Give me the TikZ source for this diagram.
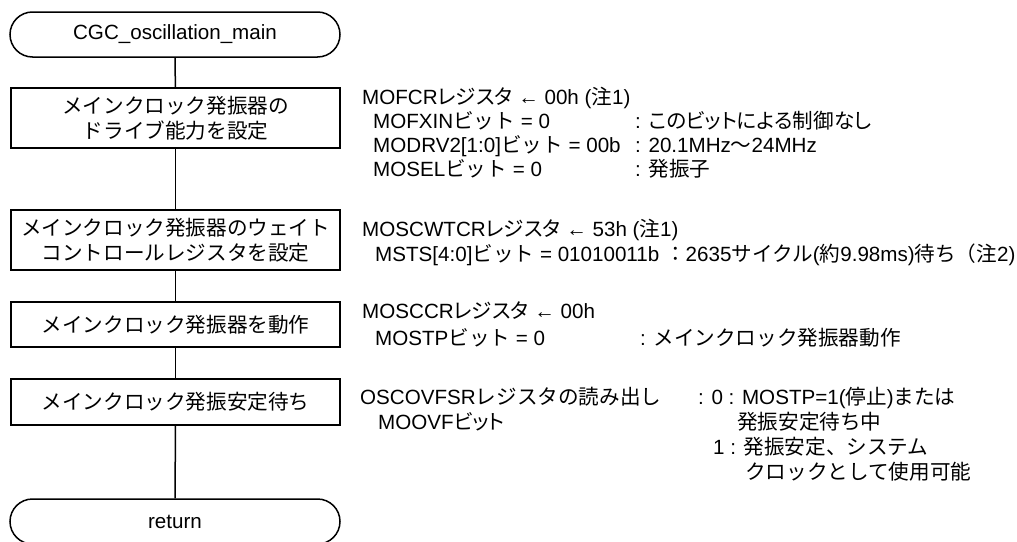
\documentclass[tikz,border=0pt]{standalone}
\usepackage{fontspec}
\setmainfont{Liberation Sans}
\newfontfamily\jpfull{Noto Sans CJK JP}
\newfontfamily\jpprop[RawFeature=+palt]{Noto Sans CJK JP}
\newcommand\jf[1]{{\jpfull #1}}
\newcommand\jp[1]{{\jpprop #1}}
\usetikzlibrary{shapes.misc}
\begin{document}
\begin{tikzpicture}[x=1pt,y=-1pt,
  every node/.style={font=\fontsize{20.6}{24.5}\selectfont},
  proc/.style={draw, line width=1.5pt, minimum width=329pt, inner sep=0pt, align=center},
  term/.style={draw, rounded rectangle, line width=1.5pt, minimum width=330pt, minimum height=45pt, inner sep=0pt},
  txt/.style={anchor=base west, inner sep=0pt},
  flow/.style={line width=1.5pt}]
\useasboundingbox (0,0) rectangle (1017,541);
% flow chart
\node[term] (start) at (175,34.5) {CGC\_oscillation\_main};
\node[proc, minimum height=60pt] (b1) at (175.5,118) {\jf{メインクロック発振器の}\\\jf{ドライブ能力を設定}};
\node[proc, minimum height=60pt] (b2) at (175.5,240) {\jf{メインクロック発振器のウェイト}\\\jf{コントロールレジスタを設定}};
\node[proc, minimum height=45pt] (b3) at (175.5,324.5) {\jf{メインクロック発振器を動作}};
\node[proc, minimum height=46pt] (b4) at (175.5,402) {\jf{メインクロック発振安定待ち}};
\node[term] (end) at (175,521.5) {return};
\draw[flow] (start) -- (b1);
\draw[flow] (b1) -- (b2);
\draw[flow] (b2) -- (b3);
\draw[flow] (b3) -- (b4);
\draw[flow] (b4) -- (end);
% block 1
\node[txt] (t1a) at (362,104.5) {MOFCR\jp{レジスタ} ← 00h (\jf{注}1)};
\node[txt] (t1b) at (373,128.5) {MOFXIN\jf{ビット} = 0};
\node[txt] (t1bc) at (635,128.5) {: \jp{このビットによる制御なし}};
\node[txt] (t1c) at (373,152.5) {MODRV2[1:0]\jf{ビット} = 00b};
\node[txt] (t1cc) at (635,152.5) {: 20.1MHz\jf{～}24MHz};
\node[txt] (t1d) at (373,176.5) {MOSEL\jf{ビット} = 0};
\node[txt] (t1dc) at (635,176.5) {: \jf{発振子}};
% block 2
\node[txt] (t2a) at (362,236) {MOSCWTCR\jp{レジスタ} ← 53h (\jf{注}1)};
\node[txt] (t2b) at (375,261.5) {MSTS[4:0]\jf{ビット} = 01010011b \jf{：}2635\jf{サイクル}(\jf{約}9.98ms)\jf{待ち（注}2)};
% block 3
\node[txt] (t3a) at (362,318) {MOSCCR\jp{レジスタ} ← 00h};
\node[txt] (t3b) at (375,345.5) {MOSTP\jf{ビット} = 0};
\node[txt] (t3bc) at (640,345.5) {: \jf{メインクロック発振器動作}};
% block 4
\node[txt] (t4a) at (360,404.5) {OSCOVFSR\jf{レジスタの読み出し}};
\node[txt] (t4ac) at (698,404.5) {: 0 : MOSTP=1(\jf{停止})\jf{または}};
\node[txt] (t4b) at (378,429.5) {MOOVF\jp{ビット}};
\node[txt] (t4bc) at (737,429.5) {\jf{発振安定待ち中}};
\node[txt] (t4c) at (713,454.5) {1 : \jf{発振安定、システム}};
\node[txt] (t4d) at (745,479.5) {\jf{クロックとして使用可能}};
\end{tikzpicture}
\end{document}
